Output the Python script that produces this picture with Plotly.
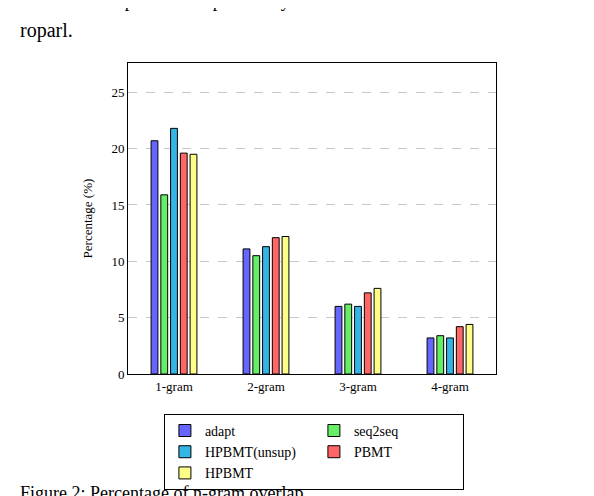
import plotly.graph_objects as go

# n-gram overlap percentages per system
ngrams = ["1-gram", "2-gram", "3-gram", "4-gram"]
systems = ["adapt", "seq2seq", "HPBMT(unsup)", "PBMT", "HPBMT"]
adapt = [20.7, 11.1, 6.0, 3.2]
seq2seq = [15.9, 10.5, 6.2, 3.4]
hpbmt_unsup = [21.8, 11.3, 6.0, 3.2]
pbmt = [19.6, 12.1, 7.2, 4.2]
hpbmt = [19.5, 12.2, 7.6, 4.4]
values = [adapt, seq2seq, hpbmt_unsup, pbmt, hpbmt]
colors = ["#6666ff", "#66ee66", "#33b5e5", "#ff6666", "#ffff88"]

serif = "Liberation Serif, Times New Roman, serif"

fig = go.Figure()
for name, vals, col in zip(systems, values, colors):
    fig.add_trace(go.Bar(
        x=ngrams, y=vals, name=name,
        marker=dict(color=col, line=dict(color="black", width=1)),
    ))

fig.update_layout(
    width=594, height=496,
    margin=dict(l=120, r=106, t=55, b=130, autoexpand=False),
    paper_bgcolor="white", plot_bgcolor="white",
    font=dict(family=serif, size=13, color="black"),
    barmode="group", bargap=0.47, bargroupgap=0.3,
    showlegend=True,
    legend=dict(orientation="h", xref="container", x=0.515, xanchor="center",
                yref="container", y=0.105, yanchor="middle",
                bordercolor="black", borderwidth=1, font=dict(size=14, family=serif),
                entrywidth=104, itemwidth=30, tracegroupgap=0),
)
fig.update_xaxes(showline=True, linecolor="black", mirror=True, ticks="",
                 tickfont=dict(size=13))
fig.update_yaxes(range=[0, 27.6], dtick=5, showline=True, linecolor="black", mirror=True,
                 showgrid=True, gridcolor="#c8c8c8", griddash="dash", zeroline=False,
                 title=dict(text="Percentage (%)", font=dict(size=13)), ticks="")

fig.add_annotation(text="Table 3: Examples of Europarl vs Style-Transferred Eu-",
                   xref="paper", yref="paper", x=-0.3, y=1.16, xanchor="left",
                   yanchor="bottom", showarrow=False, font=dict(size=18))
fig.add_annotation(text="roparl.", xref="paper", yref="paper", x=-0.3, y=1.06,
                   xanchor="left", yanchor="bottom", showarrow=False, font=dict(size=20))
fig.add_annotation(text="Figure 2: Percentage of n-gram overlap", xref="paper", yref="paper",
                   x=-0.3, y=-0.345, xanchor="left", yanchor="top", showarrow=False,
                   font=dict(size=18))

fig.write_html("out.html")
